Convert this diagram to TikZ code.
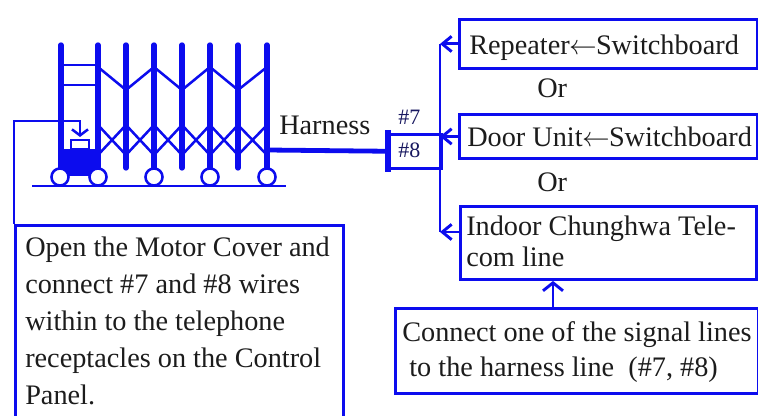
\documentclass[tikz,border=0pt]{standalone}
\usepackage{fontspec}
\setmainfont{Liberation Serif}
\usetikzlibrary{arrows.meta}
\definecolor{wire}{RGB}{12,12,238}
\definecolor{ink}{RGB}{28,28,28}
\definecolor{navy}{RGB}{24,24,96}
\newcommand{\feedarrow}{\kern-0.5pt$\leftarrow$\kern-0.5pt}

\begin{document}
\begin{tikzpicture}[x=0.75pt,y=-0.75pt,
  wirebox/.style={draw=wire,line width=2.2pt,rectangle,inner sep=0pt,anchor=north west},
  lbl/.style={anchor=base west,inner sep=0pt,text=ink,font=\fontsize{21.2}{26}\selectfont},
  tag/.style={anchor=base west,inner sep=0pt,text=navy,font=\fontsize{16.5}{20}\selectfont},
  link/.style={draw=wire,line width=2.2pt},
  barb/.style={-{Straight Barb[length=7pt,width=11.5pt,line width=2.2pt]}},
  upbarb/.style={-{Straight Barb[length=6pt,width=15pt,line width=2.2pt]}},
  post/.style={draw=wire,line width=4pt,line cap=round},
  rung/.style={draw=wire,line width=1.9pt},
  wheel/.style={circle,draw=wire,fill=white,line width=1.9pt,minimum size=12.8pt,inner sep=0pt},
  harness/.style={draw=wire,line width=3.6pt}
]
\useasboundingbox (0,0) rectangle (758,416);
\clip (0,0) rectangle (758,416);

% ---------- folding gate ----------
\foreach \x/\y in {61/165,98/165,126/168,154/169,182/168,210/169,238/168,267/169}
  \draw[post] (\x,45) -- (\x,\y);
\draw[rung] (61,65) -- (98,65) (61,85) -- (98,85);
\draw[rung] (98,67) -- (126,90) -- (154,67) -- (182,90) -- (210,67) -- (238,90) -- (267,67);
\foreach \a/\b in {98/126,126/154,154/182,182/210,210/238,238/267}
  \draw[rung] (\a,125) -- (\b,155) (\a,155) -- (\b,125);
% motor housing and cover
\fill[wire] (58,149) rectangle (101,169);
\fill[wire] (62,169) rectangle (97,176);
\node[wirebox,line width=1.5pt,minimum width=13.5pt,minimum height=6.5pt] (lid) at (70,139) {};
% wheels and rail
\foreach \i/\x in {1/60,2/98,3/154,4/210,5/267}
  \node[wheel] (w\i) at (\x,177) {};
\draw[rung] (32,186) -- (286,186);

% ---------- boxes ----------
\node[wirebox,minimum width=246pt,minimum height=160pt] (note) at (14,224) {};
\node[wirebox,line width=1.9pt,minimum width=39pt,minimum height=25.5pt] (pair) at (388,133) {};
\node[wirebox,minimum width=223.5pt,minimum height=36.75pt] (rep) at (458,18) {};
\node[wirebox,minimum width=223.5pt,minimum height=33pt] (door) at (458,113) {};
\node[wirebox,minimum width=222pt,minimum height=54.75pt] (cht) at (459,205) {};
\node[wirebox,minimum width=272.25pt,minimum height=63.75pt] (conn) at (394,307) {};

% ---------- texts ----------
\node[lbl] (harnessT) at (279,135) {Harness};
\node[tag] (t7) at (398,125) {\#7};
\node[tag] (t8) at (398,158) {\#8};
\node[lbl] (repT) at (469,55) {Repeater\feedarrow Switchboard};
\node[lbl] (or1) at (537,98) {Or};
\node[lbl] (doorT) at (467,147) {Door Unit\feedarrow Switchboard};
\node[lbl] (or2) at (537,192) {Or};
\node[lbl] (chtA) at (466,236) {Indoor Chunghwa Tele-};
\node[lbl] (chtB) at (466,267) {com line};
\node[lbl] (connA) at (402,342) {Connect one of the signal lines};
\node[lbl] (connB) at (402,377) {\ to the harness line \ (\#7, \#8)};
\node[lbl] (note1) at (25,257) {Open the Motor Cover and};
\node[lbl] (note2) at (25,294) {connect \#7 and \#8 wires};
\node[lbl] (note3) at (25,331) {within to the telephone};
\node[lbl] (note4) at (25,368) {receptacles on the Control};
\node[lbl] (note5) at (25,405) {Panel.};

% ---------- connectors ----------
\coordinate (busx) at (440,0);
\coordinate (chtin) at ([yshift=-20.25pt]cht.north west);
\draw[link] (rep.west -| busx) -- (chtin -| busx);
\draw[link,barb] (rep.west) -- (rep.west -| busx);
\draw[link,barb] (door.west) -- (door.west -| busx);
\draw[link,barb] (chtin) -- (chtin -| busx);
\coordinate (upx) at (553,0);
\draw[link,upbarb] (conn.north -| upx) -- (cht.south -| upx);
% harness from the last gate post to the terminal pair
\coordinate (gateend) at (267,150);
\draw[harness] (gateend) -- (pair.west);
\draw[post,line cap=butt] ([yshift=2.25pt]pair.north west) -- ([yshift=-1.5pt]pair.south west);
% cable from the note down into the motor cover
\coordinate (cableturn) at (14,121);
\draw[link,line width=1.9pt,-{Straight Barb[length=4.5pt,width=12pt,line width=1.9pt]}]
  (note.north west) -- (cableturn) -| ([yshift=1.5pt]lid.north);
\end{tikzpicture}
\end{document}
